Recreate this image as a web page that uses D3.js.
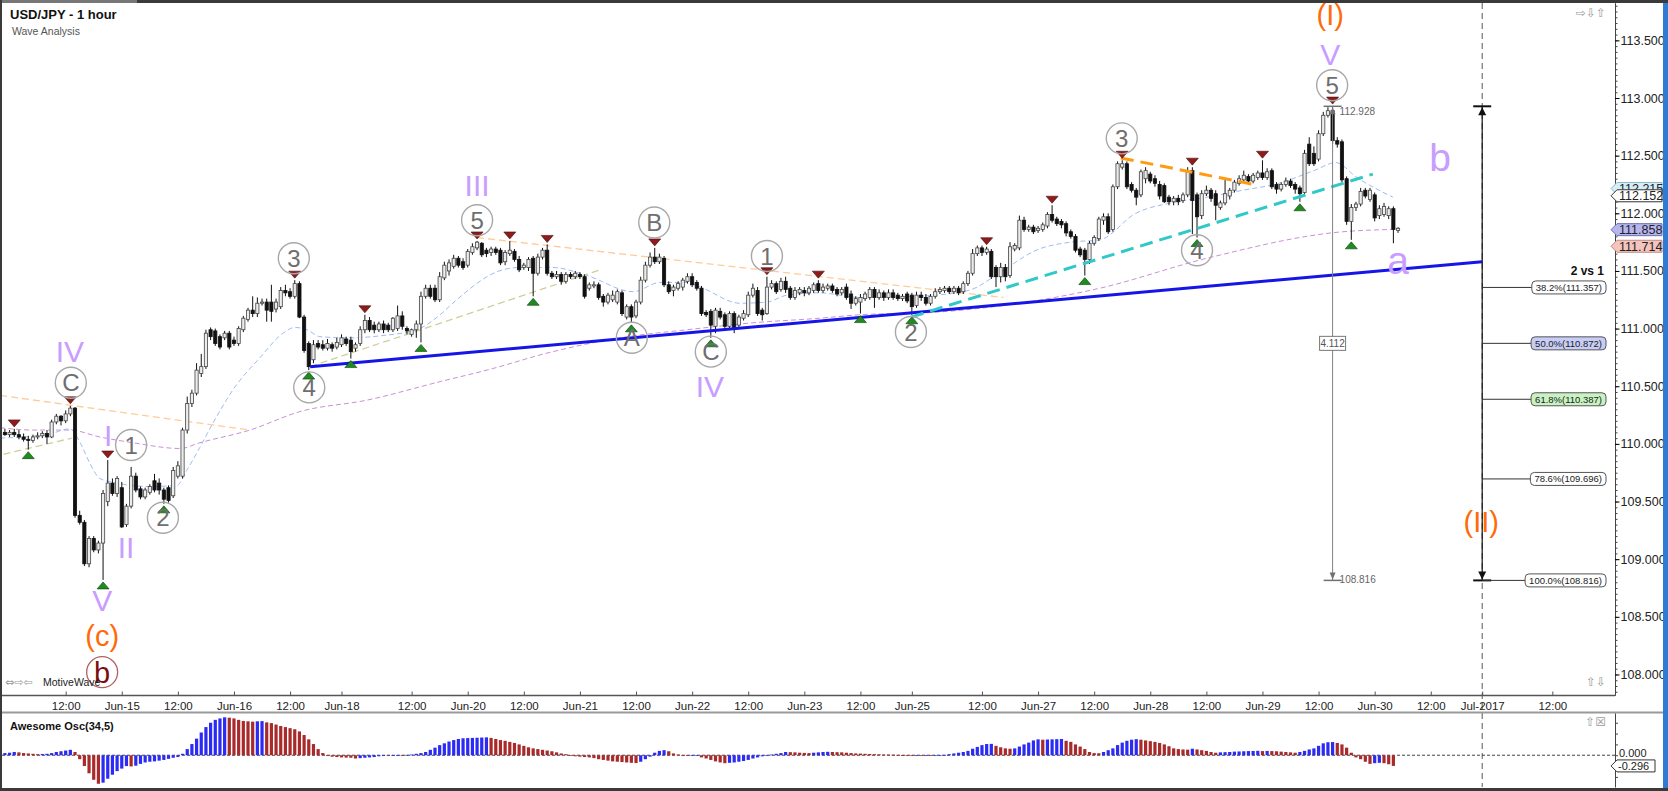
<!DOCTYPE html>
<html>
<head>
<meta charset="utf-8">
<title>USD/JPY - 1 hour</title>
<script src="https://cdn.jsdelivr.net/npm/d3@7"></script>
<style>
  body { margin: 0; background: #fff; overflow: hidden; }
  svg { display: block; font-family: "Liberation Sans", Arial, sans-serif; }
</style>
</head>
<body>
<div id="chart"></div>
<script>
// hourly candles, bar index 0 = first bar on screen
const open = [
  110.10,110.08,110.10,110.08,110.06,110.04,110.03,110.06,110.07,110.09,
  110.06,110.19,110.24,110.20,110.26,110.31,109.38,109.32,108.96,109.18,
  109.08,109.14,109.50,109.66,109.57,109.62,109.30,109.46,109.72,109.61,
  109.54,109.58,109.68,109.66,109.60,109.62,109.55,109.72,109.72,110.12,
  110.35,110.44,110.61,110.67,110.99,110.98,110.93,110.92,110.96,110.90,
  110.87,110.99,111.08,111.16,111.13,111.22,111.23,111.23,111.17,111.19,
  111.33,111.32,111.28,111.39,111.10,110.87,110.73,110.87,110.86,110.83,
  110.86,110.84,110.86,110.91,110.90,110.83,110.87,110.99,111.07,111.03,
  110.99,111.04,111.03,110.99,111.00,111.11,111.00,110.95,110.99,111.04,
  111.28,111.35,111.35,111.25,111.44,111.50,111.54,111.61,111.58,111.55,
  111.66,111.70,111.74,111.68,111.66,111.69,111.68,111.58,111.65,111.67,
  111.60,111.53,111.53,111.61,111.48,111.62,111.68,111.48,111.45,111.47,
  111.41,111.47,111.45,111.47,111.45,111.35,111.37,111.38,111.28,111.23,
  111.25,111.23,111.31,111.10,111.19,111.11,111.23,111.42,111.55,111.62,
  111.58,111.61,111.38,111.33,111.35,111.36,111.41,111.45,111.40,111.35,
  111.14,111.15,111.02,111.15,111.12,111.02,111.13,111.03,111.09,111.12,
  111.29,111.33,111.16,111.13,111.36,111.39,111.34,111.41,111.35,111.27,
  111.31,111.33,111.31,111.33,111.39,111.33,111.35,111.37,111.34,111.31,
  111.36,111.30,111.22,111.23,111.26,111.27,111.34,111.27,111.31,111.27,
  111.31,111.29,111.26,111.30,111.29,111.20,111.29,111.27,111.22,111.28,
  111.32,111.33,111.35,111.32,111.35,111.32,111.39,111.48,111.65,111.70,
  111.66,111.67,111.53,111.45,111.53,111.46,111.69,111.70,111.94,111.86,
  111.88,111.85,111.86,111.89,111.99,111.95,111.93,111.91,111.84,111.80,
  111.69,111.68,111.60,111.74,111.78,111.94,111.97,111.86,112.23,112.40,
  112.43,112.25,112.20,112.16,112.30,112.34,112.30,112.25,112.24,112.14,
  112.10,112.13,112.11,112.16,112.37,112.16,111.98,112.17,112.20,112.17,
  112.05,112.09,112.15,112.20,112.26,112.29,112.32,112.28,112.31,112.35,
  112.31,112.37,112.25,112.21,112.25,112.28,112.25,112.22,112.18,112.60,
  112.52,112.47,112.69,112.85,112.89,112.63,112.62,112.30,111.93,112.05,
  112.08,112.20,112.12,112.16,111.98,111.99,111.98,112.04,111.85
];
const high = [
  110.13,110.12,110.13,110.12,110.09,110.07,110.08,110.10,110.11,110.12,
  110.21,110.26,110.25,110.29,110.33,110.32,109.42,109.34,109.20,109.20,
  109.16,109.60,109.86,109.70,109.72,109.67,109.48,109.80,109.75,109.63,
  109.62,109.65,109.74,109.70,109.62,109.64,109.80,109.85,110.14,110.41,
  110.47,110.70,110.78,110.99,111.01,111.00,110.95,110.98,110.98,110.93,
  111.02,111.11,111.18,111.28,111.27,111.26,111.26,111.38,111.26,111.36,
  111.38,111.35,111.42,111.41,111.12,110.89,110.90,110.90,110.90,110.91,
  110.88,110.92,110.95,110.93,110.93,110.88,111.02,111.12,111.10,111.06,
  111.06,111.07,111.05,111.10,111.20,111.15,111.02,111.00,111.07,111.32,
  111.38,111.38,111.38,111.49,111.58,111.60,111.64,111.63,111.61,111.69,
  111.74,111.76,111.75,111.70,111.71,111.71,111.70,111.68,111.76,111.69,
  111.63,111.57,111.62,111.63,111.65,111.70,111.73,111.50,111.50,111.49,
  111.49,111.49,111.50,111.49,111.47,111.40,111.41,111.40,111.30,111.31,
  111.33,111.34,111.33,111.21,111.21,111.25,111.45,111.58,111.66,111.70,
  111.65,111.63,111.41,111.38,111.41,111.44,111.48,111.48,111.42,111.37,
  111.16,111.17,111.18,111.18,111.14,111.15,111.15,111.12,111.16,111.32,
  111.39,111.36,111.18,111.45,111.42,111.41,111.44,111.45,111.37,111.36,
  111.36,111.36,111.37,111.40,111.42,111.39,111.39,111.39,111.36,111.36,
  111.39,111.33,111.28,111.30,111.32,111.36,111.36,111.34,111.33,111.34,
  111.34,111.31,111.30,111.32,111.31,111.32,111.32,111.30,111.30,111.35,
  111.36,111.37,111.37,111.37,111.37,111.41,111.50,111.69,111.72,111.72,
  111.71,111.69,111.55,111.57,111.56,111.75,111.74,111.98,111.97,111.90,
  111.90,111.89,111.92,112.01,112.07,111.97,111.95,111.93,111.86,111.82,
  111.71,111.70,111.76,111.81,111.97,112.00,112.00,112.25,112.45,112.46,
  112.45,112.27,112.22,112.38,112.40,112.36,112.33,112.28,112.26,112.16,
  112.15,112.16,112.18,112.40,112.40,112.18,112.20,112.24,112.22,112.20,
  112.11,112.30,112.22,112.29,112.33,112.37,112.34,112.35,112.37,112.46,
  112.39,112.39,112.27,112.27,112.31,112.30,112.27,112.24,112.55,112.66,
  112.58,112.72,112.88,112.92,112.93,112.66,112.64,112.32,112.08,112.10,
  112.22,112.22,112.22,112.18,112.07,112.09,112.06,112.06,111.88
];
const low = [
  110.07,110.06,110.06,110.04,110.02,109.95,110.01,110.04,110.05,110.00,
  110.05,110.17,110.16,110.18,110.24,109.36,109.30,108.94,108.93,109.06,
  109.05,108.82,109.46,109.55,109.54,109.27,109.28,109.44,109.58,109.52,
  109.52,109.56,109.58,109.56,109.48,109.49,109.53,109.70,109.70,110.09,
  110.32,110.42,110.58,110.65,110.90,110.85,110.82,110.90,110.82,110.85,
  110.85,110.97,111.06,111.10,111.10,111.20,111.06,111.06,111.14,111.17,
  111.28,111.26,111.26,111.09,110.79,110.64,110.70,110.82,110.81,110.81,
  110.80,110.82,110.84,110.85,110.74,110.80,110.85,110.96,110.97,110.96,
  110.97,110.96,110.97,110.97,110.98,110.99,110.95,110.93,110.92,110.88,
  111.26,111.26,111.23,111.23,111.42,111.46,111.52,111.53,111.51,111.53,
  111.64,111.68,111.62,111.62,111.63,111.64,111.55,111.55,111.63,111.58,
  111.49,111.51,111.50,111.28,111.46,111.60,111.46,111.43,111.43,111.38,
  111.39,111.43,111.43,111.43,111.26,111.33,111.35,111.25,111.19,111.21,
  111.23,111.21,111.11,111.08,111.05,111.09,111.21,111.40,111.53,111.56,
  111.56,111.36,111.30,111.28,111.33,111.33,111.39,111.36,111.33,111.11,
  111.10,110.92,110.96,111.08,111.00,111.00,110.96,111.00,111.07,111.10,
  111.27,111.11,111.07,111.12,111.34,111.30,111.32,111.31,111.25,111.25,
  111.29,111.28,111.29,111.31,111.31,111.31,111.33,111.31,111.28,111.29,
  111.25,111.17,111.20,111.13,111.24,111.25,111.18,111.25,111.24,111.25,
  111.25,111.24,111.24,111.22,111.12,111.18,111.24,111.20,111.20,111.26,
  111.30,111.31,111.30,111.30,111.29,111.30,111.37,111.46,111.63,111.63,
  111.64,111.43,111.36,111.40,111.41,111.44,111.67,111.68,111.84,111.84,
  111.82,111.83,111.84,111.87,111.92,111.89,111.87,111.80,111.78,111.66,
  111.62,111.46,111.56,111.72,111.76,111.90,111.82,111.84,112.21,112.38,
  112.21,112.18,112.07,112.14,112.26,112.26,112.23,112.12,112.09,112.07,
  112.07,112.07,112.09,112.14,111.82,111.79,111.95,112.15,112.10,111.94,
  112.03,112.07,112.12,112.18,112.24,112.27,112.26,112.26,112.29,112.29,
  112.29,112.21,112.17,112.19,112.23,112.22,112.17,112.10,112.16,112.41,
  112.41,112.45,112.67,112.83,112.60,112.57,112.27,111.90,111.77,112.02,
  112.06,112.13,112.10,111.93,111.95,111.97,111.95,111.74,111.83
];
const close = [
  110.08,110.10,110.08,110.06,110.04,110.03,110.06,110.07,110.09,110.06,
  110.19,110.24,110.20,110.26,110.31,109.38,109.32,108.96,109.18,109.08,
  109.14,109.57,109.66,109.57,109.70,109.28,109.46,109.72,109.60,109.54,
  109.60,109.63,109.60,109.60,109.52,109.51,109.77,109.81,110.12,110.35,
  110.44,110.64,110.67,110.96,110.93,110.87,110.84,110.96,110.84,110.87,
  111.00,111.09,111.16,111.13,111.22,111.23,111.16,111.15,111.23,111.33,
  111.31,111.28,111.39,111.10,110.81,110.67,110.86,110.84,110.83,110.87,
  110.83,110.88,110.92,110.87,110.80,110.86,110.99,111.07,110.99,110.99,
  111.04,110.99,110.99,111.09,111.11,111.02,110.98,110.99,111.04,111.28,
  111.35,111.28,111.25,111.45,111.55,111.57,111.61,111.55,111.53,111.67,
  111.71,111.75,111.64,111.65,111.69,111.66,111.57,111.66,111.68,111.60,
  111.51,111.55,111.60,111.48,111.62,111.68,111.48,111.45,111.47,111.41,
  111.47,111.45,111.48,111.45,111.28,111.38,111.38,111.27,111.23,111.29,
  111.29,111.32,111.13,111.19,111.10,111.23,111.42,111.55,111.62,111.58,
  111.62,111.38,111.32,111.36,111.39,111.42,111.45,111.38,111.35,111.13,
  111.12,111.03,111.16,111.10,111.02,111.13,111.00,111.10,111.13,111.29,
  111.35,111.13,111.12,111.36,111.39,111.32,111.41,111.34,111.27,111.33,
  111.34,111.31,111.35,111.38,111.33,111.36,111.37,111.33,111.30,111.34,
  111.27,111.22,111.26,111.27,111.30,111.34,111.27,111.31,111.27,111.31,
  111.27,111.26,111.28,111.24,111.19,111.29,111.27,111.22,111.28,111.32,
  111.34,111.35,111.32,111.35,111.31,111.39,111.48,111.65,111.70,111.66,
  111.69,111.45,111.45,111.53,111.45,111.71,111.72,111.94,111.86,111.88,
  111.84,111.87,111.90,111.99,111.94,111.91,111.90,111.83,111.80,111.68,
  111.64,111.60,111.74,111.79,111.95,111.97,111.84,112.23,112.43,112.43,
  112.23,112.20,112.14,112.36,112.37,112.28,112.26,112.15,112.10,112.10,
  112.13,112.10,112.16,112.36,112.11,111.97,112.17,112.20,112.13,112.07,
  112.09,112.17,112.20,112.27,112.30,112.33,112.28,112.33,112.35,112.31,
  112.36,112.23,112.21,112.25,112.28,112.24,112.21,112.17,112.52,112.43,
  112.43,112.69,112.85,112.89,112.63,112.60,112.29,111.93,112.05,112.08,
  112.19,112.15,112.20,111.96,112.04,112.06,112.04,111.86,111.87
];

// Awesome Oscillator (34,5), one value per bar
const aoValues = [
  0.06,0.07,0.09,0.08,0.06,0.05,0.04,0.03,0.035,0.04,
  0.06,0.09,0.11,0.13,0.15,0.09,-0.11,-0.30,-0.50,-0.68,
  -0.79,-0.76,-0.65,-0.54,-0.44,-0.37,-0.30,-0.31,-0.29,-0.24,
  -0.20,-0.18,-0.17,-0.15,-0.13,-0.10,-0.07,-0.05,0.04,0.17,
  0.31,0.46,0.63,0.78,0.90,0.98,1.02,1.05,1.04,1.02,
  0.98,0.95,0.94,0.93,0.94,0.945,0.91,0.89,0.85,0.81,
  0.78,0.75,0.72,0.66,0.56,0.44,0.31,0.17,0.06,-0.02,
  -0.04,-0.05,-0.06,-0.065,-0.07,-0.09,-0.08,-0.07,-0.06,-0.05,
  -0.03,-0.01,-0.02,-0.015,-0.01,-0.012,0.01,0.02,0.04,0.06,
  0.09,0.15,0.21,0.28,0.33,0.38,0.42,0.45,0.47,0.475,
  0.48,0.485,0.49,0.495,0.48,0.45,0.42,0.40,0.37,0.34,
  0.30,0.26,0.22,0.19,0.17,0.15,0.13,0.11,0.08,0.05,
  0.03,-0.02,-0.03,-0.04,-0.05,-0.06,-0.08,-0.11,-0.13,-0.15,
  -0.17,-0.18,-0.19,-0.20,-0.21,-0.215,-0.18,-0.11,-0.04,0.07,
  0.12,0.14,0.11,0.05,0.02,-0.01,-0.02,-0.01,0.00,-0.06,
  -0.09,-0.13,-0.17,-0.20,-0.22,-0.21,-0.20,-0.18,-0.16,-0.13,
  -0.09,-0.06,-0.03,-0.01,0.02,0.04,0.06,0.09,0.085,0.08,
  0.07,0.065,0.06,0.07,0.08,0.09,0.095,0.09,0.085,0.08,
  0.07,0.06,0.05,0.045,0.04,0.035,0.03,0.025,0.02,0.018,
  0.015,0.01,0.005,-0.005,-0.01,-0.005,-0.015,-0.01,-0.02,-0.01,
  0.00,0.01,0.03,0.05,0.07,0.09,0.12,0.18,0.23,0.28,
  0.31,0.315,0.26,0.22,0.19,0.18,0.19,0.24,0.30,0.35,
  0.41,0.44,0.43,0.435,0.44,0.445,0.45,0.40,0.37,0.30,
  0.24,0.17,0.09,0.06,0.055,0.09,0.14,0.19,0.28,0.35,
  0.40,0.43,0.445,0.43,0.41,0.39,0.37,0.34,0.30,0.25,
  0.19,0.17,0.16,0.155,0.18,0.16,0.14,0.12,0.09,0.07,
  0.08,0.085,0.09,0.10,0.105,0.11,0.115,0.118,0.122,0.115,
  0.12,0.115,0.11,0.10,0.09,0.08,0.07,0.09,0.12,0.16,
  0.19,0.26,0.33,0.36,0.365,0.34,0.30,0.21,0.07,-0.06,
  -0.11,-0.18,-0.24,-0.22,-0.21,-0.22,-0.25,-0.296
];

// axis ticks
const priceTicks = [108.0, 108.5, 109.0, 109.5, 110.0, 110.5, 111.0, 111.5, 112.0, 112.5, 113.0, 113.5];
const timeTickBars = [13, 25, 37, 49, 61, 72, 87, 99, 111, 123, 135, 147, 159, 171, 183, 194, 209, 221, 233, 245, 257, 269, 281, 293, 305, 316, 331];
const timeTickLabels = ['12:00','Jun-15','12:00','Jun-16','12:00','Jun-18','12:00','Jun-20','12:00','Jun-21','12:00','Jun-22','12:00','Jun-23','12:00','Jun-25','12:00','Jun-27','12:00','Jun-28','12:00','Jun-29','12:00','Jun-30','12:00','Jul-2017','12:00'];

// moving averages: [bar, price]
const fastMA = [[-1,110.05],[9,110.08],[13.9,110.13],[16.1,110.01],[18.2,109.83],[20.3,109.70],[24,109.66],[31,109.63],[36.8,109.64],[38.9,109.77],[41.7,109.97],[44.5,110.18],[48.8,110.47],[54.6,110.75],[59.5,110.96],[62,111.01],[64.6,110.99],[67.4,110.93],[73.8,110.92],[80.9,110.94],[88.1,110.99],[93.1,111.12],[95.8,111.22],[106.5,111.51],[110.2,111.53],[117.2,111.53],[124.5,111.46],[134.4,111.32],[140.1,111.40],[145.9,111.40],[149.3,111.35],[157.2,111.22],[163,111.23],[167.3,111.29],[174.3,111.31],[182.9,111.27],[195,111.28],[206,111.33],[213.7,111.51],[220.6,111.68],[228,111.75],[234.2,111.77],[241.9,112.00],[249.4,112.09],[257.1,112.14],[264.8,112.20],[272.5,112.26],[280,112.37],[284.7,112.44],[289.2,112.31],[296.9,112.14]];
const slowMA = [[-1,110.14],[6,110.12],[13.9,110.12],[20.3,110.06],[27.4,110.01],[37.5,109.96],[41.7,110.01],[52.4,110.12],[63.1,110.28],[77.5,110.38],[93.1,110.54],[103.1,110.64],[117.2,110.80],[131.6,110.92],[145.9,110.99],[160,111.05],[174.3,111.09],[182.9,111.12],[198.3,111.14],[234.2,111.35],[257.1,111.61],[286.2,111.84],[296.9,111.86]];

// trend lines: [[bar, price], [bar, price]]
const faintOrangeLines = [[[-1,110.42],[52.4,110.12]], [[101,111.79],[213.6,111.27]]];
const faintKhakiLines = [[[-0.3,109.91],[14.3,110.05]], [[65.3,110.67],[127.3,111.51]]];
const blueTrend = [[65.3,110.67],[316,111.58]];
const cyanTrend = [[193.8,111.10],[292.6,112.34]];
const orangeTrend = [[238.7,112.48],[267.2,112.25]];

// swing markers (bar index)
const swingHighBars = [2, 14, 22, 62, 77, 101, 108, 116, 139, 163, 174, 210, 224, 239, 254, 269, 284];
const swingLowBars = [5, 21, 34, 65, 74, 89, 113, 134, 151, 183, 194, 231, 255, 277, 288];

// wave labels: [bar, baseline price, text]
const romanLabels = [[13.9,110.71,'IV'],[22.1,109.98,'I'],[25.9,109.01,'II'],[20.8,108.55,'V'],[101,112.15,'III'],[150.8,110.41,'IV'],[283.5,113.29,'V']];
const abLabels = [[307,112.37,'b'],[298,111.47,'a']];
const degreeLabels = [[20.8,108.25,'(c)'],[283.5,113.63,'(I)'],[315.8,109.24,'(II)']];
// circled labels: [bar, centre price, text]
const circleLabels = [[14.1,110.53,'C'],[27,109.99,'1'],[33.8,109.36,'2'],[61.8,111.61,'3'],[65.1,110.49,'4'],[101,111.94,'5'],[134.1,110.92,'A'],[138.9,111.92,'B'],[151,110.80,'C'],[163,111.63,'1'],[193.8,110.97,'2'],[238.9,112.65,'3'],[255,111.68,'4'],[283.9,113.11,'5']];
const bigCircleLabel = [[20.8,108.02,'b']];

// measure and fibonacci tools
const measureBar = 284;
const measureTop = 112.928, measureBottom = 108.816;
const fibBar = 316;
const fibPct = [38.2, 50.0, 61.8, 78.6, 100.0];
const fibPrice = [111.357, 110.872, 110.387, 109.696, 108.816];

// price tags on the right axis
const tagPrices = [112.215, 112.152, 111.858, 111.714];
const aoLastValue = -0.296;

function drawChart() {
  const W = 1668, H = 791;
  const font = '"Liberation Sans", Arial, sans-serif';

  const svg = d3.select('#chart').append('svg')
    .attr('width', W)
    .attr('height', H);

  svg.append('rect').attr('width', W).attr('height', H).attr('fill', '#fff');

  const x = d3.scaleLinear().domain([0, 344]).range([4.9, 4.9 + 4.675 * 344]);
  const y = d3.scaleLinear().domain([107.822, 113.824]).range([695, 3]);
  const aoY = d3.scaleLinear().domain([-0.88, 1.17]).range([787, 713]);

  const defs = svg.append('defs');
  defs.append('clipPath').attr('id', 'clip-main')
    .append('rect').attr('x', 2).attr('y', 3).attr('width', 1613).attr('height', 689);
  defs.append('clipPath').attr('id', 'clip-osc')
    .append('rect').attr('x', 2).attr('y', 713).attr('width', 1613).attr('height', 74);

  const main = svg.append('g').attr('clip-path', 'url(#clip-main)');
  const seg = d3.line().x(d => x(d[0])).y(d => y(d[1]));
  const maLine = d3.line().x(d => x(d[0])).y(d => y(d[1])).curve(d3.curveMonotoneX);

  // moving averages
  main.append('path').datum(slowMA)
    .attr('d', maLine)
    .attr('fill', 'none')
    .attr('stroke', '#cc8fd8')
    .attr('stroke-width', 1)
    .attr('stroke-dasharray', '5,3');
  main.append('path').datum(fastMA)
    .attr('d', maLine)
    .attr('fill', 'none')
    .attr('stroke', '#9dbcf5')
    .attr('stroke-width', 1)
    .attr('stroke-dasharray', '5,3');

  // faint trend lines
  faintOrangeLines.forEach(l => {
    main.append('path').attr('d', seg(l))
      .attr('stroke', '#ffcc99').attr('stroke-width', 1.3)
      .attr('stroke-dasharray', '7,4').attr('fill', 'none');
  });
  faintKhakiLines.forEach(l => {
    main.append('path').attr('d', seg(l))
      .attr('stroke', '#cfcf9a').attr('stroke-width', 1.3)
      .attr('stroke-dasharray', '7,4').attr('fill', 'none');
  });

  // candles
  const idx = d3.range(close.length);
  const candles = main.append('g');
  candles.selectAll('line')
    .data(idx)
    .enter()
    .append('line')
    .attr('x1', i => x(i))
    .attr('x2', i => x(i))
    .attr('y1', i => y(high[i]))
    .attr('y2', i => y(low[i]))
    .attr('stroke', '#111')
    .attr('stroke-width', 1);
  candles.selectAll('rect')
    .data(idx)
    .enter()
    .append('rect')
    .attr('x', i => x(i) - 1.6)
    .attr('width', 3.2)
    .attr('y', i => y(Math.max(open[i], close[i])))
    .attr('height', i => Math.max(1, Math.abs(y(open[i]) - y(close[i]))))
    .attr('fill', i => close[i] >= open[i] ? '#ececec' : '#111')
    .attr('stroke', i => close[i] >= open[i] ? '#444' : '#111')
    .attr('stroke-width', 0.8);

  // bold trend lines
  main.append('path').attr('d', seg(blueTrend))
    .attr('stroke', '#1515e8').attr('stroke-width', 3).attr('fill', 'none');
  main.append('path').attr('d', seg(cyanTrend))
    .attr('stroke', '#30c8c8').attr('stroke-width', 3)
    .attr('stroke-dasharray', '13,7').attr('fill', 'none');
  main.append('path').attr('d', seg(orangeTrend))
    .attr('stroke', '#ff9a14').attr('stroke-width', 3)
    .attr('stroke-dasharray', '13,7').attr('fill', 'none');

  // swing markers
  main.selectAll('.hi-mark')
    .data(swingHighBars)
    .enter()
    .append('path')
    .attr('class', 'hi-mark')
    .attr('d', i => {
      const cx = x(i), t = y(high[i]) - 9;
      return `M${cx - 6},${t}L${cx + 6},${t}L${cx},${t + 7}Z`;
    })
    .attr('fill', '#8e1c1c')
    .attr('stroke', '#4a0c0c')
    .attr('stroke-width', 0.6);
  main.selectAll('.lo-mark')
    .data(swingLowBars)
    .enter()
    .append('path')
    .attr('class', 'lo-mark')
    .attr('d', i => {
      const cx = x(i), b = y(low[i]) + 9;
      return `M${cx - 6},${b}L${cx + 6},${b}L${cx},${b - 7}Z`;
    })
    .attr('fill', '#1f8c1f')
    .attr('stroke', '#0c3a0c')
    .attr('stroke-width', 0.6);

  // measure tool
  const mx = x(measureBar);
  const mg = main.append('g');
  mg.append('line').attr('x1', mx).attr('x2', mx)
    .attr('y1', y(measureTop)).attr('y2', y(measureBottom))
    .attr('stroke', '#808080').attr('stroke-width', 1);
  mg.append('line').attr('x1', mx - 9).attr('x2', mx + 9)
    .attr('y1', y(measureTop)).attr('y2', y(measureTop))
    .attr('stroke', '#707070').attr('stroke-width', 1.5);
  mg.append('line').attr('x1', mx - 9).attr('x2', mx + 9)
    .attr('y1', y(measureBottom)).attr('y2', y(measureBottom))
    .attr('stroke', '#707070').attr('stroke-width', 1.5);
  mg.append('path')
    .attr('d', `M${mx - 3},${y(measureTop) + 8}L${mx + 3},${y(measureTop) + 8}L${mx},${y(measureTop) + 1}Z`)
    .attr('fill', '#707070');
  mg.append('path')
    .attr('d', `M${mx - 3},${y(measureBottom) - 8}L${mx + 3},${y(measureBottom) - 8}L${mx},${y(measureBottom) - 1}Z`)
    .attr('fill', '#707070');
  mg.append('text').attr('x', mx + 7).attr('y', y(measureTop) + 9)
    .attr('font-size', 10).attr('fill', '#666').text(measureTop.toFixed(3));
  mg.append('text').attr('x', mx + 7).attr('y', y(measureBottom) + 3)
    .attr('font-size', 10).attr('fill', '#666').text(measureBottom.toFixed(3));
  const mMid = y((measureTop + measureBottom) / 2);
  mg.append('rect').attr('x', mx - 13).attr('y', mMid - 7).attr('width', 26).attr('height', 14)
    .attr('fill', '#fff').attr('stroke', '#777');
  mg.append('text').attr('x', mx).attr('y', mMid + 3.5).attr('text-anchor', 'middle')
    .attr('font-size', 10).attr('fill', '#555').text((measureTop - measureBottom).toFixed(3));

  // wave labels
  main.selectAll('.roman')
    .data(romanLabels)
    .enter()
    .append('text')
    .attr('x', d => x(d[0]))
    .attr('y', d => y(d[1]))
    .attr('text-anchor', 'middle')
    .attr('font-size', 30)
    .attr('fill', '#c99cff')
    .text(d => d[2]);
  main.selectAll('.ab')
    .data(abLabels)
    .enter()
    .append('text')
    .attr('x', d => x(d[0]))
    .attr('y', d => y(d[1]))
    .attr('text-anchor', 'middle')
    .attr('font-size', 39)
    .attr('fill', '#c99cff')
    .text(d => d[2]);
  main.selectAll('.degree')
    .data(degreeLabels)
    .enter()
    .append('text')
    .attr('x', d => x(d[0]))
    .attr('y', d => y(d[1]))
    .attr('text-anchor', 'middle')
    .attr('font-size', 29)
    .attr('fill', '#ff6a0a')
    .text(d => d[2]);

  const circ = main.selectAll('.circ')
    .data(circleLabels)
    .enter()
    .append('g')
    .attr('transform', d => `translate(${x(d[0])},${y(d[1])})`);
  circ.append('circle').attr('r', 15.5)
    .attr('fill', 'none').attr('stroke', '#a8a8a8').attr('stroke-width', 1.4);
  circ.append('text').attr('text-anchor', 'middle').attr('dy', '0.36em')
    .attr('font-size', 24).attr('fill', '#6e6e6e').text(d => d[2]);

  const bc = main.selectAll('.bigcirc')
    .data(bigCircleLabel)
    .enter()
    .append('g')
    .attr('transform', d => `translate(${x(d[0])},${y(d[1])})`);
  bc.append('circle').attr('r', 15.5)
    .attr('fill', 'none').attr('stroke', '#b06060').attr('stroke-width', 1.3);
  bc.append('text').attr('text-anchor', 'middle').attr('dy', '0.36em')
    .attr('font-size', 29).attr('fill', '#7a0f0f').text(d => d[2]);

  // Jul-2017 separator
  const sepX = x(fibBar);
  svg.append('line').attr('x1', sepX).attr('x2', sepX).attr('y1', 3).attr('y2', 787)
    .attr('stroke', '#555').attr('stroke-width', 1).attr('stroke-dasharray', '6,4');

  // fibonacci tool
  const fg = svg.append('g');
  fg.append('line').attr('x1', sepX).attr('x2', sepX)
    .attr('y1', y(measureTop)).attr('y2', y(measureBottom))
    .attr('stroke', '#111').attr('stroke-width', 1.2);
  fg.append('line').attr('x1', sepX - 9).attr('x2', sepX + 9)
    .attr('y1', y(measureTop)).attr('y2', y(measureTop))
    .attr('stroke', '#111').attr('stroke-width', 2);
  fg.append('line').attr('x1', sepX - 9).attr('x2', sepX + 9)
    .attr('y1', y(measureBottom)).attr('y2', y(measureBottom))
    .attr('stroke', '#111').attr('stroke-width', 2);
  fg.append('path')
    .attr('d', `M${sepX - 4},${y(measureTop) + 9}L${sepX + 4},${y(measureTop) + 9}L${sepX},${y(measureTop) + 1}Z`)
    .attr('fill', '#111');
  fg.append('path')
    .attr('d', `M${sepX - 4},${y(measureBottom) - 9}L${sepX + 4},${y(measureBottom) - 9}L${sepX},${y(measureBottom) - 1}Z`)
    .attr('fill', '#111');

  const fibFill = ['#ffffff', '#c7cdf6', '#c9f2c3', '#ffffff', '#ffffff'];
  fibPct.forEach((p, k) => {
    const fy = y(fibPrice[k]);
    const lg = fg.append('g');
    const t = lg.append('text')
      .attr('font-size', 9.5)
      .attr('fill', '#222')
      .attr('y', fy + 3.4)
      .text(`${p.toFixed(1)}%(${fibPrice[k].toFixed(3)})`);
    const len = t.node().getComputedTextLength();
    const right = 1606;
    const left = right - len - 8;
    t.attr('x', left + 4);
    lg.insert('rect', 'text')
      .attr('x', left).attr('y', fy - 6.5)
      .attr('width', len + 8).attr('height', 13)
      .attr('rx', 4)
      .attr('fill', fibFill[k])
      .attr('stroke', '#555');
    lg.insert('line', 'rect')
      .attr('x1', sepX).attr('x2', left)
      .attr('y1', fy).attr('y2', fy)
      .attr('stroke', '#333').attr('stroke-width', 1);
  });
  fg.append('text').attr('x', 1604).attr('y', y(fibPrice[0]) - 12)
    .attr('text-anchor', 'end').attr('font-size', 12).attr('font-weight', 'bold')
    .attr('fill', '#111').text('2 vs 1');

  // oscillator
  const osc = svg.append('g').attr('clip-path', 'url(#clip-osc)');
  osc.append('line').attr('x1', 2).attr('x2', 1615)
    .attr('y1', aoY(0)).attr('y2', aoY(0))
    .attr('stroke', '#444').attr('stroke-width', 1).attr('stroke-dasharray', '3,2');
  osc.selectAll('rect')
    .data(aoValues)
    .enter()
    .append('rect')
    .attr('x', (d, i) => x(i) - 1.6)
    .attr('width', 3.2)
    .attr('y', d => Math.min(aoY(d), aoY(0)))
    .attr('height', d => Math.max(0.8, Math.abs(aoY(d) - aoY(0))))
    .attr('fill', (d, i) => (i === 0 || d >= aoValues[i - 1]) ? '#2b2bf5' : '#a82a2a');
  svg.append('text').attr('x', 10).attr('y', 730)
    .attr('font-size', 11).attr('font-weight', 'bold').attr('fill', '#111')
    .text('Awesome Osc(34,5)');

  // time axis
  const xAxis = d3.axisBottom(x)
    .tickValues(timeTickBars)
    .tickFormat((d, i) => timeTickLabels[i])
    .tickSize(-4)
    .tickSizeOuter(0)
    .tickPadding(6);
  const gx = svg.append('g').attr('transform', 'translate(0,695.5)').call(xAxis);
  gx.attr('font-family', font).attr('font-size', 11.5);
  gx.select('.domain').remove();
  gx.selectAll('line').attr('stroke', '#555');
  gx.selectAll('text').attr('fill', '#222');
  svg.append('line').attr('x1', 2).attr('x2', 1615).attr('y1', 695.5).attr('y2', 695.5)
    .attr('stroke', '#555').attr('stroke-width', 1.5);
  svg.append('line').attr('x1', 2).attr('x2', 1663).attr('y1', 712.5).attr('y2', 712.5)
    .attr('stroke', '#999').attr('stroke-width', 2);

  // price axis
  const gyMinor = svg.append('g').attr('transform', 'translate(1615,0)')
    .call(d3.axisRight(y).tickValues(d3.range(107.85, 113.8, 0.05)).tickFormat('').tickSize(2.5).tickSizeOuter(0));
  gyMinor.selectAll('line').attr('stroke', '#444');
  const gy = svg.append('g').attr('transform', 'translate(1615,0)')
    .call(d3.axisRight(y).tickValues(priceTicks).tickFormat(d3.format('.3f')).tickSize(4.5).tickPadding(1).tickSizeOuter(0));
  gy.attr('font-family', font).attr('font-size', 12.5);
  gy.select('.domain').attr('stroke', '#444');
  gy.selectAll('text').attr('fill', '#222');

  // price tags
  const tagFill = ['#d6eef8', '#ffffff', '#b6b6ef', '#f4c4bd'];
  const tagStroke = ['#8fb8c8', '#333333', '#6e6eb0', '#c08a84'];
  tagPrices.forEach((p, k) => {
    const ty = y(p);
    svg.append('path')
      .attr('d', `M1611,${ty}L1617,${ty - 6}L1662,${ty - 6}L1662,${ty + 6}L1617,${ty + 6}Z`)
      .attr('fill', tagFill[k]).attr('stroke', tagStroke[k]).attr('stroke-width', 1);
    svg.append('text').attr('x', 1619).attr('y', ty + 4.5)
      .attr('font-size', 12.5).attr('fill', '#222').text(p.toFixed(3));
  });

  // oscillator axis
  const gao = svg.append('g').attr('transform', 'translate(1615,0)')
    .call(d3.axisRight(aoY).tickValues([-0.6, -0.3, 0, 0.3, 0.6, 0.9]).tickFormat('').tickSize(3).tickSizeOuter(0));
  gao.select('.domain').attr('stroke', '#444');
  gao.selectAll('line').attr('stroke', '#444');
  svg.append('text').attr('x', 1619).attr('y', aoY(0) + 2)
    .attr('font-size', 11).attr('fill', '#222').text('0.000');
  const ly = aoY(aoLastValue);
  svg.append('path')
    .attr('d', `M1611,${ly}L1617,${ly - 6}L1655,${ly - 6}L1655,${ly + 6}L1617,${ly + 6}Z`)
    .attr('fill', '#fff').attr('stroke', '#333');
  svg.append('text').attr('x', 1618).attr('y', ly + 4)
    .attr('font-size', 11).attr('fill', '#222').text(aoLastValue.toFixed(3));

  // titles and small icons
  svg.append('text').attr('x', 10).attr('y', 19)
    .attr('font-size', 13).attr('font-weight', 'bold').attr('fill', '#111')
    .text('USD/JPY - 1 hour');
  svg.append('text').attr('x', 12).attr('y', 35)
    .attr('font-size', 10.5).attr('fill', '#555')
    .text('Wave Analysis');
  svg.append('text').attr('x', 1606).attr('y', 17).attr('text-anchor', 'end')
    .attr('font-family', 'DejaVu Sans').attr('font-size', 12).attr('fill', '#999')
    .text('\u21E8\u21E9\u21E7');
  svg.append('text').attr('x', 5).attr('y', 686)
    .attr('font-family', 'DejaVu Sans').attr('font-size', 11).attr('fill', '#999')
    .text('\u21D4\u21E8\u21E6');
  svg.append('text').attr('x', 43).attr('y', 686)
    .attr('font-size', 10.5).attr('fill', '#222').text('MotiveWave');
  svg.append('text').attr('x', 1606).attr('y', 686).attr('text-anchor', 'end')
    .attr('font-family', 'DejaVu Sans').attr('font-size', 12).attr('fill', '#999')
    .text('\u21E7\u21E9');
  svg.append('text').attr('x', 1606).attr('y', 726).attr('text-anchor', 'end')
    .attr('font-family', 'DejaVu Sans').attr('font-size', 12).attr('fill', '#999')
    .text('\u21E7\u2612');

  // window frame
  svg.append('rect').attr('x', 0).attr('y', 0).attr('width', W).attr('height', 3).attr('fill', '#3a3a3a');
  svg.append('rect').attr('x', 0).attr('y', 0).attr('width', 137).attr('height', 3).attr('fill', '#777');
  svg.append('rect').attr('x', 0).attr('y', 0).attr('width', 2).attr('height', H).attr('fill', '#3a3a3a');
  svg.append('rect').attr('x', 0).attr('y', 788).attr('width', W).attr('height', 3).attr('fill', '#3a3a3a');
  svg.append('rect').attr('x', 1663).attr('y', 3).attr('width', 5).attr('height', 785).attr('fill', '#2f7bd3');
}

drawChart();
</script>
</body>
</html>
